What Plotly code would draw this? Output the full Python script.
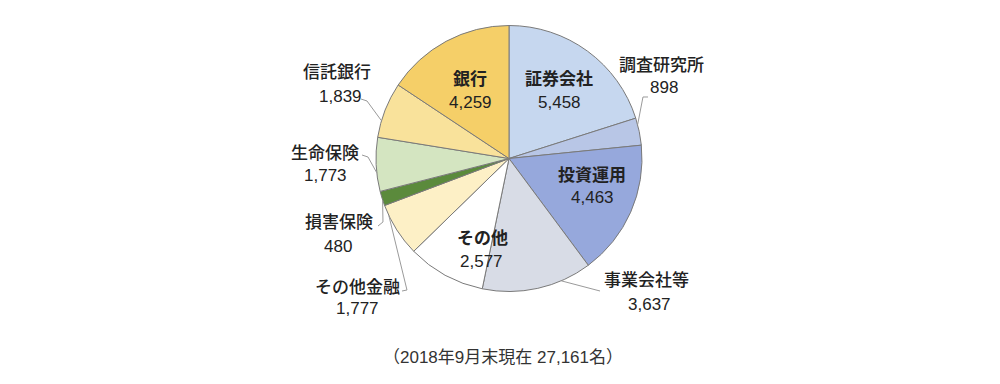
import math
import plotly.graph_objects as go

# ---- data ----
categories = ["証券会社", "調査研究所", "投資運用", "事業会社等", "その他",
              "その他金融", "損害保険", "生命保険", "信託銀行", "銀行"]
values = [5458, 898, 4463, 3637, 2577, 1777, 480, 1773, 1839, 4259]
value_labels = ["5,458", "898", "4,463", "3,637", "2,577", "1,777", "480", "1,773", "1,839", "4,259"]
footnote = "（2018年9月末現在 27,161名）"

# ---- styles / layout ----
colors = ["#c6d7ef", "#b8c6e6", "#96a8dc", "#d8dce6", "#ffffff",
          "#fdf0c6", "#5b8a3c", "#d4e5c1", "#f9e29b", "#f5cf68"]
OFF = 8                      # page body margin of the html page
W, H = 1000 - OFF, 384 - OFF
CX, CY, R = 509, 158.5, 133  # page-pixel geometry of the pie
FONT = "Liberation Sans, Noto Sans CJK JP, sans-serif"
TXT = "#222222"

label_layout = {
    "証券会社":   dict(name=(559, 79), val=(559, 102), inside=True),
    "銀行":       dict(name=(470, 80), val=(470, 102), inside=True),
    "投資運用":   dict(name=(592, 175), val=(592, 197), inside=True),
    "その他":     dict(name=(482, 238), val=(481, 261), inside=True),
    "調査研究所": dict(name=(661, 65), val=(664, 88), inside=False,
                     leader=[(648, 97), (643, 97)], frac=0.25),
    "事業会社等": dict(name=(646, 280), val=(649, 304), inside=False,
                     leader=[(600, 291)], frac=0.28),
    "信託銀行":   dict(name=(337, 72), val=(340, 96), inside=False,
                     leader=[(361, 99), (367, 101)], frac=0.3),
    "生命保険":   dict(name=(325, 153), val=(325, 175), inside=False,
                     leader=[(362, 155), (368, 157)], frac=0.35),
    "損害保険":   dict(name=(339, 222), val=(338, 246), inside=False,
                     leader=[(378, 226), (383, 222)], frac=0.4),
    "その他金融": dict(name=(357, 287), val=(357, 308), inside=False,
                     leader=[(402, 291), (407, 290)], frac=0.8),
}

def px(x):
    return (x - OFF) / W

def py(y):
    return 1 - (y - OFF) / H

fig = go.Figure(go.Pie(
    labels=categories, values=values, sort=False, direction="clockwise",
    rotation=0, textinfo="none", hoverinfo="none",
    marker=dict(colors=colors, line=dict(color="#7a7a7a", width=1)),
    domain=dict(x=[px(CX - R), px(CX + R)], y=[py(CY + R), py(CY - R)]),
    showlegend=False,
))

total = sum(values)
annotations = []
shapes = []
cum = 0
for cat, v, vl in zip(categories, values, value_labels):
    lay = label_layout[cat]
    start = cum / total * 360
    span = v / total * 360
    cum += v
    nx, ny = lay["name"]
    vx, vy = lay["val"]
    if lay["inside"]:
        name_font = dict(family=FONT, size=17, color=TXT, weight=700)
    else:
        name_font = dict(family=FONT, size=17, color=TXT, weight=500)
    annotations.append(dict(x=px(nx), y=py(ny), xref="paper", yref="paper",
                            text=cat, showarrow=False, font=name_font,
                            xanchor="center", yanchor="middle"))
    annotations.append(dict(x=px(vx), y=py(vy), xref="paper", yref="paper",
                            text=vl, showarrow=False,
                            font=dict(family=FONT, size=17, color=TXT),
                            xanchor="center", yanchor="middle"))
    if not lay["inside"]:
        ang = math.radians(start + lay["frac"] * span)
        ex = CX + R * math.sin(ang)
        ey = CY - R * math.cos(ang)
        pts = lay["leader"] + [(ex, ey)]
        path = "M " + " L ".join(f"{px(x):.4f},{py(y):.4f}" for x, y in pts)
        shapes.append(dict(type="path", path=path, xref="paper", yref="paper",
                           line=dict(color="#9a9a9a", width=1)))

annotations.append(dict(x=px(503), y=py(357), xref="paper", yref="paper",
                        text=footnote, showarrow=False,
                        font=dict(family=FONT, size=17, color="#333333"),
                        xanchor="center", yanchor="middle"))

fig.update_layout(
    width=W, height=H, margin=dict(l=0, r=0, t=0, b=0),
    paper_bgcolor="white", plot_bgcolor="white",
    annotations=annotations, shapes=shapes,
)
fig.write_html("out.html")
